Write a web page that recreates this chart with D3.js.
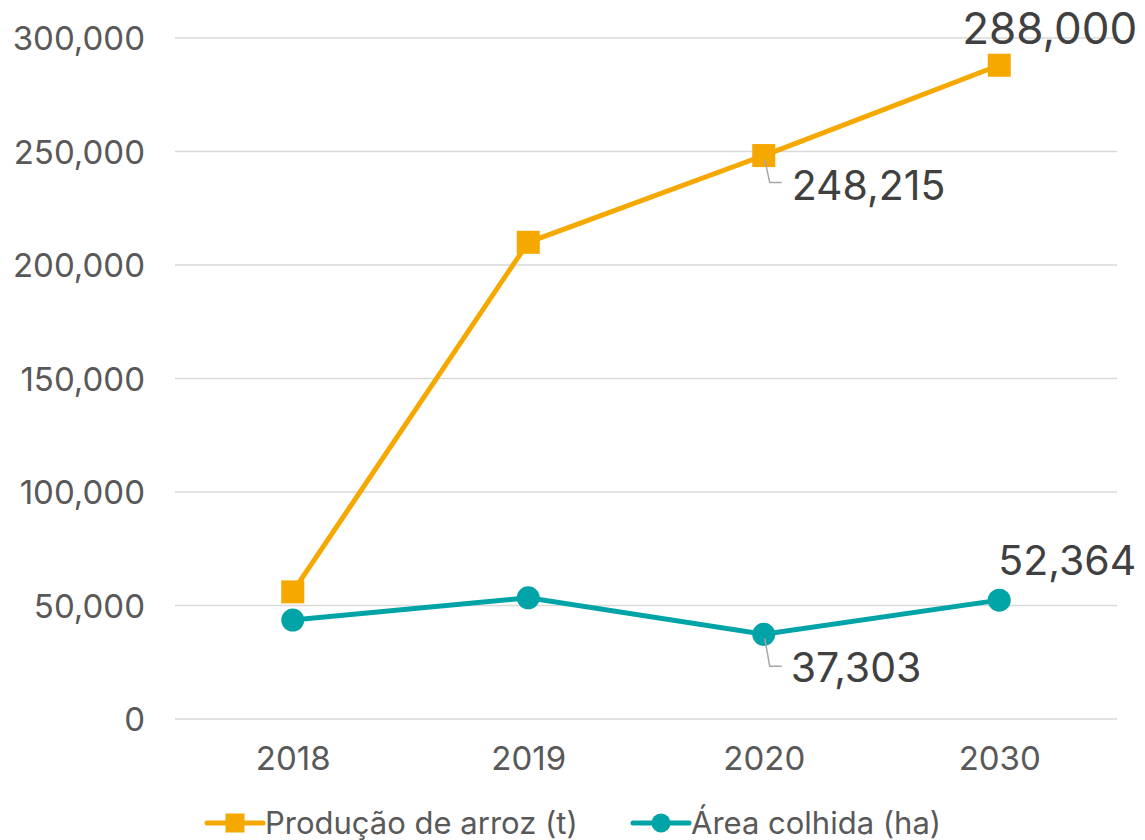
<!DOCTYPE html>
<html>
<head>
<meta charset="utf-8">
<script src="https://cdn.jsdelivr.net/npm/d3@7"></script>
<style>
  html, body { margin: 0; padding: 0; background: #fff; }
  svg text { font-family: Inter, "Liberation Sans", Arial, sans-serif; }
</style>
</head>
<body>
<div id="chart"></div>
<script>
// Chart data
const years = ["2018", "2019", "2020", "2030"];
const producao = [56000, 210000, 248215, 288000];
const area = [43600, 53400, 37303, 52364];
const yTicks = [0, 50000, 100000, 150000, 200000, 250000, 300000];
const seriesNames = ["Produção de arroz (t)", "Área colhida (ha)"];

const width = 1145, height = 840;
const orange = "#f5a800", teal = "#00a4a6";

const svg = d3.select("#chart").append("svg")
    .attr("width", width)
    .attr("height", height);

const x = d3.scalePoint().domain(years).range([175, 1117]).padding(0.5);
const y = d3.scaleLinear().domain([0, 300000]).range([719, 38]);
const fmt = d3.format(",");

// Gridlines
svg.append("g")
    .selectAll("line")
    .data(yTicks)
    .join("line")
    .attr("x1", 175).attr("x2", 1117)
    .attr("y1", d => y(d)).attr("y2", d => y(d))
    .attr("stroke", "#d9d9d9")
    .attr("stroke-width", 1.5);

// Y axis labels
const yAxis = svg.append("g")
    .attr("transform", "translate(145,0)")
    .call(d3.axisLeft(y).tickValues(yTicks).tickFormat(fmt).tickSize(0).tickPadding(0));
yAxis.select(".domain").remove();
yAxis.selectAll("text")
    .attr("fill", "#595959")
    .style("font-size", "33px")
    .attr("dy", "0.36em");

// X axis labels
const xAxis = svg.append("g")
    .attr("transform", "translate(0,719)")
    .call(d3.axisBottom(x).tickSize(0).tickPadding(0));
xAxis.select(".domain").remove();
xAxis.selectAll("text")
    .attr("fill", "#595959")
    .style("font-size", "33px")
    .attr("y", 51)
    .attr("dy", 0);

const line = d3.line()
    .x((d, i) => x(years[i]))
    .y(d => y(d));

// Production series
svg.append("path")
    .datum(producao)
    .attr("d", line)
    .attr("fill", "none")
    .attr("stroke", orange)
    .attr("stroke-width", 5);

svg.append("g")
    .selectAll("rect")
    .data(producao)
    .join("rect")
    .attr("x", (d, i) => x(years[i]) - 11.5)
    .attr("y", d => y(d) - 11.5)
    .attr("width", 23).attr("height", 23)
    .attr("fill", orange);

// Area series
svg.append("path")
    .datum(area)
    .attr("d", line)
    .attr("fill", "none")
    .attr("stroke", teal)
    .attr("stroke-width", 5);

svg.append("g")
    .selectAll("circle")
    .data(area)
    .join("circle")
    .attr("cx", (d, i) => x(years[i]))
    .attr("cy", d => y(d))
    .attr("r", 11.5)
    .attr("fill", teal);

// Data labels (2020 and 2030 only)
function leader(px, py, dy) {
    svg.append("path")
        .attr("d", `M${px + 1},${py + 4} L${px + 6},${py + dy} L${px + 18},${py + dy}`)
        .attr("fill", "none")
        .attr("stroke", "#a6a6a6")
        .attr("stroke-width", 1.5);
}

const labelColor = "#404040";

// 248,215
leader(x("2020"), y(producao[2]), 27);
svg.append("text")
    .attr("x", x("2020") + 28)
    .attr("y", y(producao[2]) + 44)
    .attr("fill", labelColor)
    .style("font-size", "41px")
    .text(fmt(producao[2]));

// 288,000
svg.append("text")
    .attr("x", x("2030") + 138)
    .attr("y", y(producao[3]) - 21)
    .attr("text-anchor", "end")
    .attr("fill", labelColor)
    .style("font-size", "44px")
    .text(fmt(producao[3]));

// 37,303
leader(x("2020"), y(area[2]), 32);
svg.append("text")
    .attr("x", x("2020") + 27)
    .attr("y", y(area[2]) + 48)
    .attr("fill", labelColor)
    .style("font-size", "41px")
    .text(fmt(area[2]));

// 52,364
svg.append("text")
    .attr("x", x("2030") - 1)
    .attr("y", y(area[3]) - 25)
    .attr("fill", labelColor)
    .style("font-size", "41px")
    .text(fmt(area[3]));

// Legend
const legend = svg.append("g").attr("transform", "translate(0,823)");
const legendItems = [
    { name: seriesNames[0], color: orange, marker: "square", x0: 207 },
    { name: seriesNames[1], color: teal, marker: "circle", x0: 633 }
];
legendItems.forEach(item => {
    const g = legend.append("g").attr("transform", `translate(${item.x0},0)`);
    g.append("line")
        .attr("x1", 0).attr("x2", 56)
        .attr("stroke", item.color)
        .attr("stroke-width", 5)
        .attr("stroke-linecap", "round");
    if (item.marker === "square") {
        g.append("rect")
            .attr("x", 28 - 9.5).attr("y", -9.5)
            .attr("width", 19).attr("height", 19)
            .attr("fill", item.color);
    } else {
        g.append("circle")
            .attr("cx", 28).attr("r", 9.5)
            .attr("fill", item.color);
    }
    g.append("text")
        .attr("x", 58)
        .attr("y", 11)
        .attr("fill", "#595959")
        .style("font-size", "31px")
        .text(item.name);
});
</script>
</body>
</html>
